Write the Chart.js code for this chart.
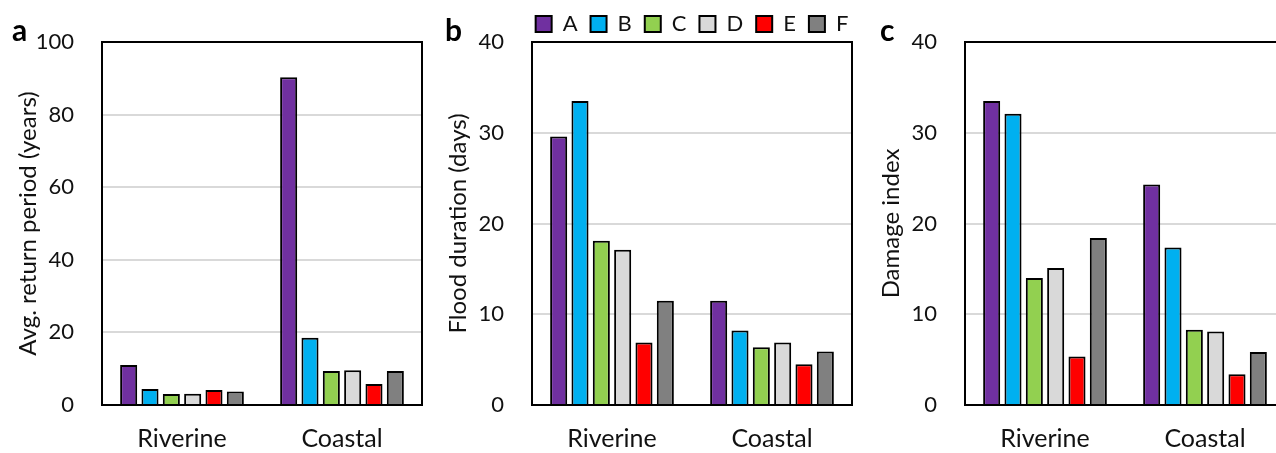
<!DOCTYPE html>
<html><head><meta charset="utf-8">
<script src="https://cdn.jsdelivr.net/npm/chart.js@4"></script>
<style>
html,body{margin:0;padding:0;background:#fff;overflow:hidden;width:1276px;height:453px;position:relative;}
canvas{position:absolute;top:0;}
.lbl{position:absolute;font-family:Lato,sans-serif;font-weight:bold;font-size:30px;color:#000;line-height:1;}
</style></head><body>
<canvas id="ca" width="430" height="453" style="left:0px"></canvas>
<canvas id="cb" width="430" height="453" style="left:430px"></canvas>
<canvas id="cc" width="430" height="453" style="left:863px"></canvas>
<div class="lbl" style="left:12px;top:14px">a</div>
<div class="lbl" style="left:445px;top:14px">b</div>
<div class="lbl" style="left:880px;top:14px">c</div>
<script>
const categories = ['Riverine', 'Coastal'];
const seriesNames = ['A', 'B', 'C', 'D', 'E', 'F'];
const seriesColors = ['#7030A0', '#00B0F0', '#92D050', '#D9D9D9', '#FF0000', '#808080'];

const returnRiverine = [11.0, 4.4, 3.0, 3.1, 4.1, 3.7];
const returnCoastal  = [90.3, 18.5, 9.4, 9.6, 5.8, 9.4];
const durationRiverine = [29.6, 33.5, 18.1, 17.1, 6.9, 11.5];
const durationCoastal  = [11.5, 8.2, 6.35, 6.9, 4.5, 5.9];
const damageRiverine = [33.5, 32.1, 14.0, 15.1, 5.35, 18.4];
const damageCoastal  = [24.3, 17.35, 8.3, 8.1, 3.4, 5.85];

const ticksA = [0, 20, 40, 60, 80, 100];
const ticksB = [0, 10, 20, 30, 40];
const ticksC = [0, 10, 20, 30, 40];

const FONT = 'Lato';
const TXT = '#111';

function makeDatasets(riv, coa) {
  return seriesNames.map((n, i) => ({
    label: n,
    data: [riv[i], coa[i]],
    backgroundColor: seriesColors[i],
    borderColor: '#000',
    borderWidth: 2,
    categoryPercentage: 0.8,
    barPercentage: 0.8
  }));
}

function makeChart(id, riv, coa, tickVals, yTitle, showLegend) {
  const ymax = tickVals[tickVals.length - 1];
  const step = tickVals[1] - tickVals[0];
  return new Chart(document.getElementById(id), {
    type: 'bar',
    data: { labels: categories, datasets: makeDatasets(riv, coa) },
    options: {
      responsive: false,
      animation: false,
      devicePixelRatio: 1,
      layout: { padding: { top: showLegend ? 0 : 42, right: 8, left: 0, bottom: 0 } },
      plugins: {
        tooltip: { enabled: false },
        legend: {
          display: showLegend,
          position: 'top',
          fullSize: false,
          maxHeight: 42,
          labels: {
            boxWidth: 16, boxHeight: 16, padding: 13,
            color: TXT,
            font: { family: FONT, size: 22 }
          }
        }
      },
      scales: {
        x: {
          grid: { display: false, drawTicks: false },
          border: { display: true, color: '#000', width: 2 },
          ticks: { color: TXT, padding: 19, font: { family: FONT, size: 25 } },
          afterFit: s => { s.height = 48; }
        },
        y: {
          min: 0, max: ymax,
          grid: { color: '#D9D9D9', lineWidth: 2, drawTicks: false },
          border: { display: true, color: '#000', width: 2 },
          ticks: { stepSize: step, color: TXT, padding: 28, font: { family: FONT, size: 22 } },
          title: { display: true, text: yTitle, color: TXT, padding: { top: 14, bottom: 0 }, font: { family: FONT, size: 24 } },
          afterFit: s => { s.width = 102; }
        },
        x2: {
          position: 'top',
          grid: { display: false, drawTicks: false },
          border: { display: true, color: '#000', width: 2 },
          ticks: { display: false },
          afterFit: s => { s.height = 0; }
        },
        y2: {
          position: 'right',
          min: 0, max: ymax,
          grid: { display: false, drawTicks: false },
          border: { display: true, color: '#000', width: 2 },
          ticks: { display: false },
          afterFit: s => { s.width = 0; }
        }
      }
    }
  });
}

makeChart('ca', returnRiverine, returnCoastal, ticksA, 'Avg. return period (years)', false);
const chartB = makeChart('cb', durationRiverine, durationCoastal, ticksB, 'Flood duration (days)', true);
// keep all six legend entries on one row (the legend row is slightly wider than the plot)
if (chartB.legend) {
  const lg = chartB.legend;
  const EXTRA = 40;
  const origUpdate = lg.update.bind(lg);
  lg.update = (mw, mh, margins) => origUpdate(mw + 2 * EXTRA, mh, margins);
  const origDraw = lg.draw.bind(lg);
  lg.draw = function () {
    this.left -= EXTRA; this.right += EXTRA;
    origDraw();
    this.left += EXTRA; this.right -= EXTRA;
  };
  chartB.update();
}
makeChart('cc', damageRiverine, damageCoastal, ticksC, 'Damage index', false);
</script>
</body></html>
